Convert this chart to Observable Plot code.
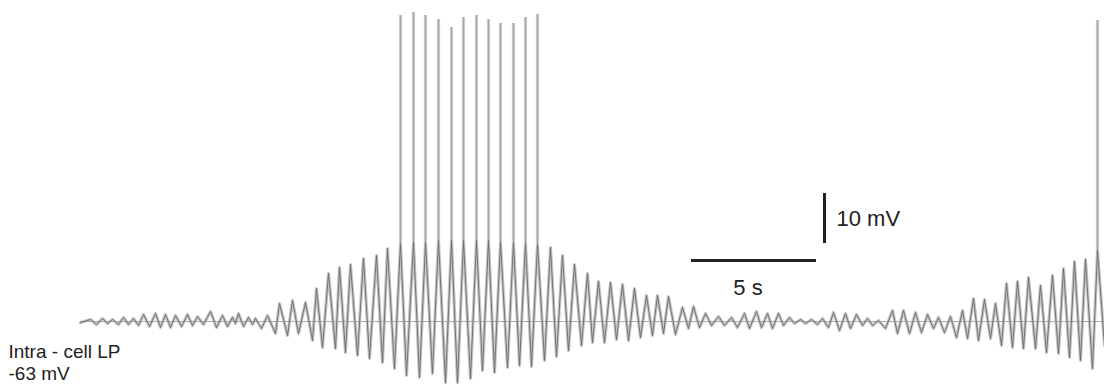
<!DOCTYPE html>
<html><head><meta charset="utf-8">
<script src="https://cdn.jsdelivr.net/npm/d3@7"></script>
<script src="https://cdn.jsdelivr.net/npm/@observablehq/plot@0.6"></script>
<style>html,body{margin:0;padding:0;background:#fff;} #chart svg{display:block;}</style>
</head><body><div id="chart"></div>
<script>
// Membrane potential trace: successive peaks and troughs (time in s, potential in mV)
const traceTime = [0, 0.4, 0.64, 0.88, 1.08, 1.28, 1.52, 1.72, 1.92, 2.12, 2.32, 2.52, 2.76, 3.0, 3.2, 3.4, 3.6, 3.8, 4.04, 4.28, 4.48, 4.68, 4.92, 5.2, 5.44, 5.68, 5.88, 6.08, 6.2, 6.32, 6.52, 6.72, 6.88,
  7.0, 7.24, 7.48, 7.8, 7.96, 8.28, 8.48, 8.72, 9.0, 9.28, 9.44, 9.68, 9.92, 10.2, 10.36, 10.6, 10.8, 11.08, 11.32, 11.56, 11.84, 12.08, 12.28, 12.56, 12.8, 13.04, 13.32, 13.56, 13.8, 14.08, 14.32, 14.6, 14.84, 15.08, 15.32, 15.6, 15.84, 16.08, 16.32, 16.56, 16.8, 17.08, 17.32, 17.56, 17.8, 18.04, 18.28, 18.56, 18.8, 19.04, 19.28, 19.52, 19.76, 20.04, 20.28, 20.48,
  20.72, 20.96, 21.2, 21.44, 21.68, 21.92, 22.16, 22.4, 22.64, 22.88, 23.08, 23.32, 23.52, 23.8, 24.08, 24.32, 24.52, 24.76, 25.0, 25.24, 25.52, 25.76, 26.04, 26.28, 26.56, 26.76, 27.04, 27.24,
  27.48, 27.68, 27.92, 28.12, 28.36, 28.56, 28.8, 29.0, 29.24, 29.48, 29.68, 29.92, 30.12, 30.36, 30.6, 30.8, 31.04, 31.28, 31.48, 31.68, 31.92, 32.2, 32.48, 32.68, 32.92, 33.16, 33.4, 33.64, 33.88, 34.12,
  34.32, 34.56, 34.8, 35.04, 35.28, 35.48, 35.72, 35.92, 36.16, 36.4, 36.6, 36.84, 37.04, 37.28, 37.48, 37.72, 37.92, 38.2, 38.4, 38.64, 38.88, 39.12, 39.32, 39.56, 39.76, 40.0, 40.2, 40.48, 40.68, 40.96];
const traceMv = [-63.2, -62.6, -63.6, -62.4, -63.4, -62.6, -63.6, -62.2, -63.6, -62.4, -63.8, -61.6, -64.0, -61.4, -64.2, -61.6, -64.2, -61.8, -64.0, -61.6, -63.8, -62.0, -63.6, -61.0, -64.2, -61.8, -64.0, -62.2, -63.4, -61.4, -64.0, -62.2, -63.6,
  -62.4, -64.4, -61.8, -65.4, -59.4, -65.8, -58.8, -65.4, -59.2, -66.8, -56.4, -68.2, -53.4, -68.4, -52.2, -69.2, -51.6, -69.8, -50.4, -70.4, -49.8, -71.2, -48.4, -72.4, -47.4, -73.8, -47.2, -74.2, -47.2, -73.4, -46.8, -75.2, -46.8, -75.2, -46.8, -74.4, -46.8, -72.8, -46.8, -73.2, -47.2, -72.2, -47.2, -71.8, -47.4, -72.0, -47.6, -70.8, -48.2, -70.0, -49.8, -68.8, -51.6, -67.8, -53.4, -67.2,
  -55.0, -67.2, -55.2, -66.6, -55.6, -66.8, -56.4, -66.2, -57.8, -65.8, -57.8, -65.4, -58.0, -65.6, -60.2, -64.4, -60.0, -64.2, -61.4, -63.8, -62.0, -63.8, -62.2, -64.2, -61.4, -64.4, -61.0, -64.2,
  -61.4, -64.4, -61.4, -63.8, -62.2, -63.4, -62.6, -63.4, -62.6, -63.6, -62.4, -64.2, -61.2, -64.8, -61.4, -64.4, -61.6, -63.8, -62.4, -63.8, -62.8, -64.4, -60.8, -65.4, -60.8, -65.4, -61.2, -65.2, -61.6, -64.4,
  -62.2, -65.2, -62.0, -66.2, -60.8, -66.4, -58.4, -66.8, -58.6, -66.4, -59.4, -67.8, -55.4, -68.2, -55.0, -68.4, -54.2, -68.4, -55.8, -69.2, -53.8, -69.4, -52.4, -70.2, -51.0, -70.8, -50.6, -72.4, -48.8, -67.8];

// Action potentials (time in s, peak in mV)
const spikeTime = [12.8, 13.32, 13.8, 14.32, 14.84, 15.32, 15.84, 16.32, 16.8, 17.32, 17.8, 18.28, 40.68];
const spikePeakMv = [-1.8, -1.2, -1.8, -2.6, -4.2, -2.2, -1.8, -2.6, -3.4, -3.4, -2.2, -1.6, -2.8];

const restingMv = -63;

// Scale bars
const timeBarTime = [24.44, 29.44];
const timeBarMv = -50.8;
const mvBarTime = 29.76;
const mvBarMv = [-47.4, -37.4];

// Texts
const cellLabel = ["Intra - cell LP", "-63 mV"];
const timeBarLabel = "5 s";
const mvBarLabel = "10 mV";

const trace = traceTime.map((t, i) => ({t, v: traceMv[i]}));
const spikes = spikeTime.map((t, i) => ({t, base: traceMv[traceTime.indexOf(t)], peak: spikePeakMv[i]}));
const font = "'Liberation Sans', Arial, Helvetica, sans-serif";

const chart = Plot.plot({
  width: 1104,
  height: 384,
  margin: 0,
  style: {fontFamily: font, background: "#fff"},
  x: {domain: [-3.2, 40.96], axis: null},
  y: {domain: [-75.6, 1.2], axis: null},
  marks: [
    Plot.line(trace, {x: "t", y: "v", stroke: "#c6c6c6", strokeWidth: 3.2, curve: "linear"}),
    Plot.ruleX(spikes, {x: "t", y1: "base", y2: "peak", stroke: "#cbcbcb", strokeWidth: 3.2}),
    Plot.ruleY([restingMv], {x1: traceTime[0], x2: traceTime[traceTime.length - 1], stroke: "#ababab", strokeWidth: 1.2}),
    Plot.line(trace, {x: "t", y: "v", stroke: "#6a6a6a", strokeWidth: 0.9, curve: "linear"}),
    Plot.ruleX(spikes, {x: "t", y1: "base", y2: "peak", stroke: "#9a9a9a", strokeWidth: 0.8}),
    Plot.ruleY([timeBarMv], {x1: timeBarTime[0], x2: timeBarTime[1], stroke: "#222", strokeWidth: 3}),
    Plot.ruleX([mvBarTime], {y1: mvBarMv[0], y2: mvBarMv[1], stroke: "#222", strokeWidth: 3}),
    Plot.text([mvBarLabel], {x: mvBarTime, y: (mvBarMv[0] + mvBarMv[1]) / 2, dx: 12, text: d => d, textAnchor: "start", fontSize: 22, fill: "#222"}),
    Plot.text([timeBarLabel], {x: (timeBarTime[0] + timeBarTime[1]) / 2, y: timeBarMv, dy: 27, dx: -6, text: d => d, fontSize: 22, fill: "#222"}),
    Plot.text([cellLabel.join("\n")], {frameAnchor: "bottom-left", dx: 8, dy: -5, text: d => d, textAnchor: "start", lineAnchor: "bottom", lineHeight: 1.15, fontSize: 19, fill: "#222"})
  ]
});
document.getElementById("chart").appendChild(chart);
</script>
</body></html>
